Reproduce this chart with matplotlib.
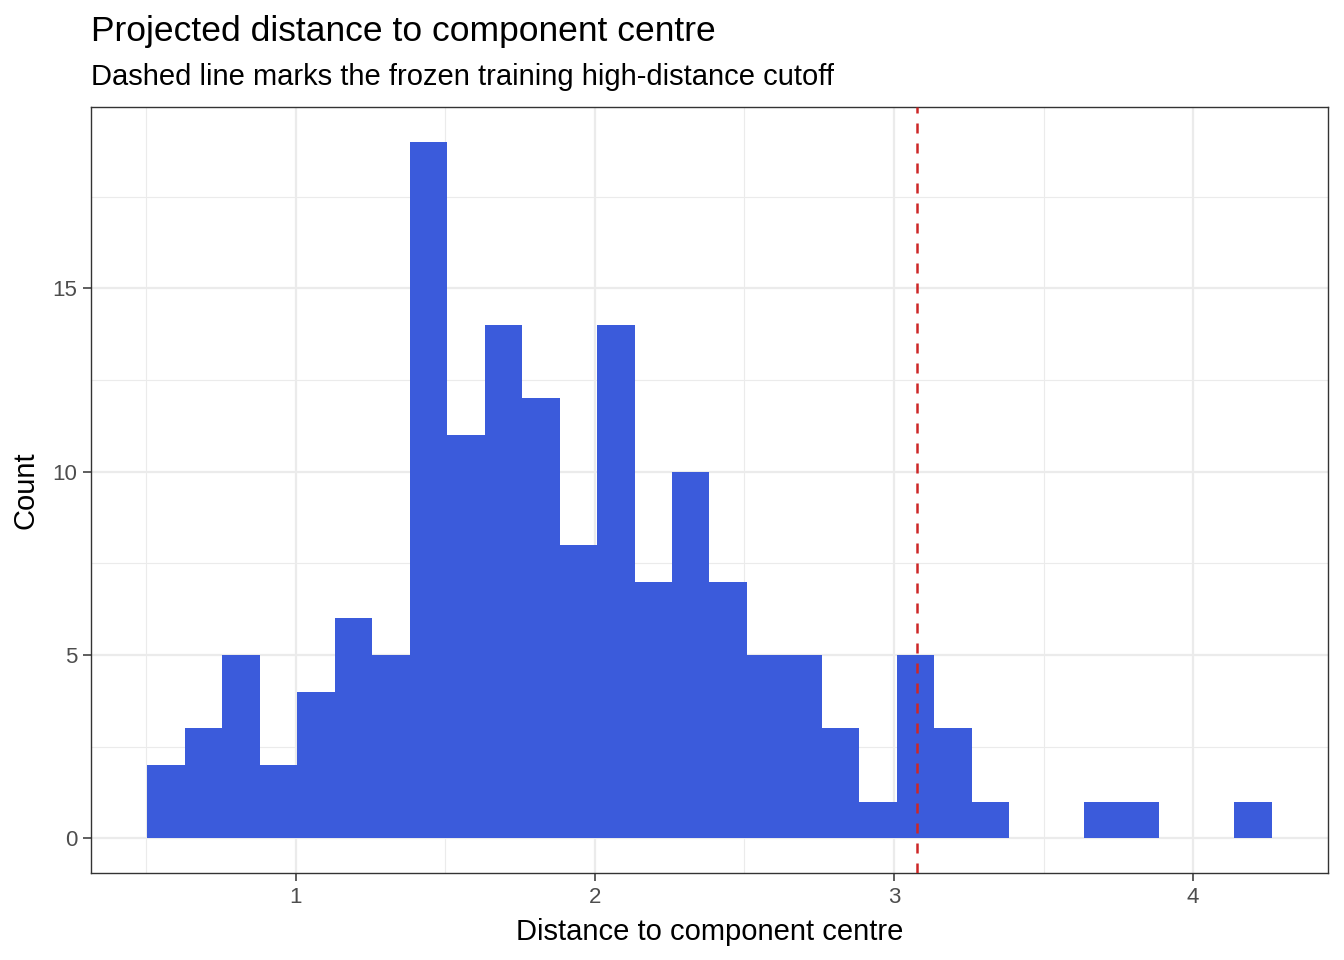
import numpy as np
import matplotlib
matplotlib.use("Agg")
import matplotlib.pyplot as plt

# Data
bin_start = 0.504
bin_end = 4.263
counts = [2, 3, 5, 2, 4, 6, 5, 19, 11, 14, 12, 8, 14, 7, 10, 7, 5, 5, 3, 1,
          5, 3, 1, 0, 0, 1, 1, 0, 0, 1]
cutoff = 3.077
x_ticks = [1, 2, 3, 4]
y_ticks = [0, 5, 10, 15]

title = "Projected distance to component centre"
subtitle = "Dashed line marks the frozen training high-distance cutoff"
xlabel = "Distance to component centre"
ylabel = "Count"

plt.rcParams['font.family'] = ['Liberation Sans', 'DejaVu Sans']

W, H = 1344, 960
fig = plt.figure(figsize=(W / 100, H / 100), dpi=100)
ax = fig.add_axes([91 / W, (H - 873) / H, (1328 - 91) / W, (873 - 107) / H])

edges = np.linspace(bin_start, bin_end, len(counts) + 1)
widths = np.diff(edges)
ax.bar(edges[:-1], counts, width=widths, align='edge', color='#3B5BDB',
       edgecolor='none', linewidth=0, zorder=2)
ax.axvline(cutoff, color='#CD2626', linestyle=(0, (4, 4)), linewidth=1.8, zorder=3)

rng = bin_end - bin_start
ax.set_xlim(bin_start - 0.05 * rng, bin_end + 0.05 * rng)
ymax = max(counts)
ax.set_ylim(-0.05 * ymax, ymax * 1.05)

ax.set_xticks(x_ticks)
ax.set_yticks(y_ticks)
ax.set_xticks([0.5, 1.5, 2.5, 3.5], minor=True)
ax.set_yticks([2.5, 7.5, 12.5, 17.5], minor=True)
ax.grid(True, which='major', color='#EBEBEB', linewidth=1.6, zorder=0)
ax.grid(True, which='minor', color='#EBEBEB', linewidth=0.8, zorder=0)
ax.set_axisbelow(True)

for s in ax.spines.values():
    s.set_color('#333333')
    s.set_linewidth(1.0)

ax.tick_params(which='major', length=5.5, width=1.1, color='#333333',
               labelsize=16, labelcolor='#4D4D4D', pad=4.5)
ax.tick_params(which='minor', length=0)

ax.set_xlabel(xlabel, fontsize=21, color='black', labelpad=7)
ax.set_ylabel(ylabel, fontsize=21, color='black', labelpad=9)

fig.text(91 / W, 1 - 40.5 / H, title, fontsize=25.5, color='black', ha='left', va='baseline')
fig.text(91 / W, 1 - 85 / H, subtitle, fontsize=21, color='black', ha='left', va='baseline')

fig.savefig("out.png", dpi=100)
